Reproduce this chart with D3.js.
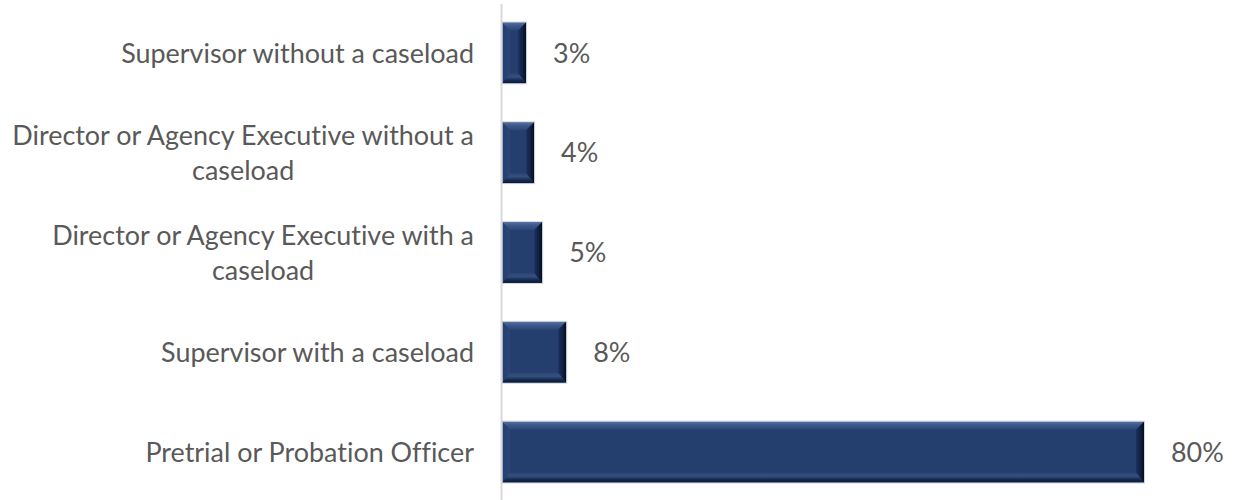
<!DOCTYPE html>
<html>
<head>
<meta charset="utf-8">
<script src="https://cdn.jsdelivr.net/npm/d3@7"></script>
<style>
  html, body { margin: 0; padding: 0; background: #fff; }
  svg { display: block; }
  text { font-family: Lato, "Open Sans", sans-serif; fill: #595959; font-variant-ligatures: none; font-feature-settings: "liga" 0, "clig" 0; }
</style>
</head>
<body>
<svg id="chart" width="1233" height="500"></svg>
<script>
// Role of respondents (percent of total)
const categories = [
  "Supervisor without a caseload",
  "Director or Agency Executive without a caseload",
  "Director or Agency Executive with a caseload",
  "Supervisor with a caseload",
  "Pretrial or Probation Officer"
];
const values = [3, 4, 5, 8, 80];
const valueLabels = ["3%", "4%", "5%", "8%", "80%"];

const svg = d3.select("#chart");
const W = 1233, H = 500;

const x = d3.scaleLinear().domain([0, 80]).range([502, 1144]);
const y = d3.scaleBand().domain(categories).range([3, 502])
  .paddingInner(0.39).paddingOuter(0.195);

// Scratch text element for measuring label widths
const scratch = svg.append("text").attr("visibility", "hidden");
function textWidth(s, size) {
  scratch.style("font-size", size + "px").text(s);
  return scratch.node().getComputedTextLength();
}
// Font sizing: fit a long label line to the space left of the axis
const fontSize = 100 * 462 / textWidth("Director or Agency Executive without a", 100);

// Bevel gradients
const defs = svg.append("defs");
function lin(id, x1, y1, x2, y2, stops) {
  const g = defs.append("linearGradient").attr("id", id)
    .attr("x1", x1).attr("y1", y1).attr("x2", x2).attr("y2", y2);
  stops.forEach(([o, c]) => g.append("stop").attr("offset", o).attr("stop-color", c));
}
lin("bvTop", 0, 0, 0, 1, [[0, "#5671a2"], [0.35, "#3f5a8c"], [1, "#2a4576"]]);
lin("bvLeft", 0, 0, 1, 0, [[0, "#243d6c"], [1, "#2c4777"]]);
lin("bvRight", 0, 0, 1, 0, [[0, "#1c3260"], [0.6, "#0f1f3e"], [1, "#050d1d"]]);
lin("bvBottom", 0, 0, 0, 1, [[0, "#2b4473"], [0.35, "#35507f"], [0.7, "#152a50"], [1, "#0b1730"]]);

// Category axis line
svg.append("line")
  .attr("x1", x(0) - 0.5).attr("x2", x(0) - 0.5)
  .attr("y1", 4).attr("y2", H)
  .attr("stroke", "#d9d9d9").attr("stroke-width", 2);

const data = categories.map((c, i) => ({ c, v: values[i], label: valueLabels[i] }));

const bars = svg.append("g").selectAll("g").data(data).join("g");

bars.each(function (d) {
  const g = d3.select(this);
  const x0 = x(0), x1 = x(d.v);
  const y0 = y(d.c), y1 = y0 + y.bandwidth();
  const w = x1 - x0, h = y1 - y0;
  const b = Math.min(8, w / 2 - 1);
  const bb = Math.min(10, h / 2);
  // face
  g.append("rect").attr("x", x0).attr("y", y0).attr("width", w).attr("height", h)
    .attr("fill", "#243e6d");
  const poly = (pts, fill) => g.append("polygon")
    .attr("points", pts.map(p => p.join(",")).join(" ")).attr("fill", fill);
  poly([[x0, y0], [x1, y0], [x1 - b, y0 + b], [x0 + b, y0 + b]], "url(#bvTop)");
  poly([[x0, y0], [x0 + b, y0 + b], [x0 + b, y1 - bb], [x0, y1]], "url(#bvLeft)");
  poly([[x1, y0], [x1, y1], [x1 - b, y1 - bb], [x1 - b, y0 + b]], "url(#bvRight)");
  poly([[x0, y1], [x0 + b, y1 - bb], [x1 - b, y1 - bb], [x1, y1]], "url(#bvBottom)");
  // thin edge outline
  g.append("rect").attr("x", x0 + 0.5).attr("y", y0 - 0.5).attr("width", w).attr("height", h + 1)
    .attr("fill", "none").attr("stroke", "#c5cedd").attr("stroke-width", 1).attr("stroke-opacity", 0.8);
});

// Value labels
bars.append("text")
  .attr("x", d => x(d.v) + 27)
  .attr("y", d => y(d.c) + y.bandwidth() / 2)
  .attr("dy", "0.36em")
  .style("font-size", fontSize + "px")
  .text(d => d.label);

// Category labels: wrapped, lines centred within a right-aligned block
const labelRight = 474;
const maxLine = 470;
const lineH = 35;
function wrap(s) {
  const words = s.split(" ");
  const lines = [];
  let cur = "";
  words.forEach(wd => {
    const trial = cur ? cur + " " + wd : wd;
    if (textWidth(trial, fontSize) > maxLine && cur) { lines.push(cur); cur = wd; }
    else cur = trial;
  });
  lines.push(cur);
  return lines;
}
const labelG = svg.append("g");
categories.forEach(c => {
  const lines = wrap(c);
  const blockW = d3.max(lines, ln => textWidth(ln, fontSize));
  const cx = labelRight - blockW / 2;
  const cy = y(c) + y.bandwidth() / 2;
  const t = labelG.append("text")
    .attr("text-anchor", "middle")
    .style("font-size", fontSize + "px");
  lines.forEach((ln, i) => {
    t.append("tspan")
      .attr("x", cx)
      .attr("y", cy + (i - (lines.length - 1) / 2) * lineH)
      .attr("dy", "0.36em")
      .text(ln);
  });
});
scratch.remove();
</script>
</body>
</html>
